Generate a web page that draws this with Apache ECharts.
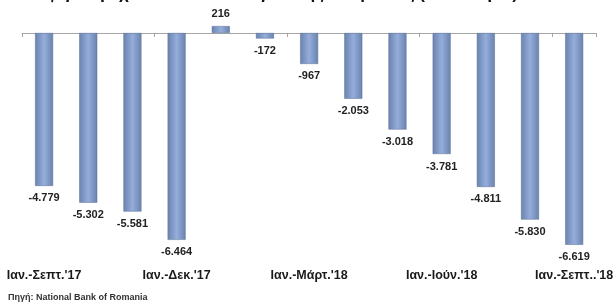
<!DOCTYPE html>
<html>
<head>
<meta charset="utf-8">
<script src="https://cdn.jsdelivr.net/npm/echarts@6/dist/echarts.min.js"></script>
<style>
  html, body { margin: 0; padding: 0; background: #fff; }
  #main { width: 616px; height: 307px; }
</style>
</head>
<body>
<div id="main"></div>
<script>
// περίοδοι (σωρευτικά)
const periods = [
  "Ιαν.-Σεπτ.'17", "Ιαν.-Οκτ.'17", "Ιαν.-Νοέμ.'17", "Ιαν.-Δεκ.'17",
  "Ιαν.'18", "Ιαν.-Φεβρ.'18", "Ιαν.-Μάρτ.'18", "Ιαν.-Απρ.'18",
  "Ιαν.-Μάι.'18", "Ιαν.-Ιούν.'18", "Ιαν.-Ιούλ.'18", "Ιαν.-Αύγ.'18",
  "Ιαν.-Σεπτ..'18"
];
const balance = [-4779, -5302, -5581, -6464, 216, -172, -967, -2053, -3018, -3781, -4811, -5830, -6619];
const shownLabels = [0, 3, 6, 9, 12];

let chart = echarts.init(document.getElementById('main'));

function fmt(v) {
  let s = Math.abs(v).toString().replace(/\B(?=(\d{3})+(?!\d))/g, '.');
  return (v < 0 ? '-' : '') + s;
}

const barColor = {
  type: 'linear', x: 0, y: 0, x2: 1, y2: 0,
  colorStops: [
    { offset: 0, color: '#6a82ad' },
    { offset: 0.5, color: '#95addb' },
    { offset: 1, color: '#6a82ad' }
  ]
};

let option = {
  animation: false,
  title: {
    text: 'Ισοζύγιο τρεχουσών συναλλαγών της Ρουμανίας (εκατ. ευρώ)',
    left: 14,
    top: -19,
    textStyle: { fontFamily: 'Liberation Sans', fontSize: 17, fontWeight: 'bold', color: '#111' }
  },
  graphic: [{
    type: 'text',
    left: 8,
    top: 293,
    style: { text: 'Πηγή: National Bank of Romania', font: 'bold 9px "Liberation Sans"', fill: '#333' }
  }],
  grid: { left: 22, right: 13, top: 17, bottom: 50 },
  xAxis: [{
    type: 'category',
    data: periods,
    axisLine: { onZero: true, lineStyle: { color: '#a6a6a6', width: 1 } },
    axisTick: { show: true, length: 4, inside: false, lineStyle: { color: '#a6a6a6' } },
    axisLabel: { show: false }
  }, {
    type: 'category',
    data: periods,
    position: 'bottom',
    axisLine: { show: false, onZero: false },
    axisTick: { show: false },
    axisLabel: {
      interval: function (i) { return shownLabels.indexOf(i) >= 0; },
      margin: 12,
      fontFamily: 'Liberation Sans',
      fontSize: 12.5,
      fontWeight: 'bold',
      color: '#1a1a1a'
    }
  }],
  yAxis: {
    type: 'value',
    min: -7000,
    max: 500,
    show: false,
    splitLine: { show: false }
  },
  series: [{
    type: 'bar',
    xAxisIndex: 0,
    barWidth: 18,
    z: 3,
    itemStyle: { color: barColor, borderColor: '#5a7099', borderWidth: 0.5 },
    label: {
      show: true,
      distance: 7,
      formatter: function (p) { return fmt(p.value); },
      fontFamily: 'Liberation Sans',
      fontSize: 11,
      fontWeight: 'bold',
      color: '#222'
    },
    // θετικές τιμές πάνω, αρνητικές κάτω
    data: balance.map(function (v) {
      return { value: v, label: { position: v < 0 ? 'bottom' : 'top' } };
    })
  }]
};

chart.setOption(option);
</script>
</body>
</html>
